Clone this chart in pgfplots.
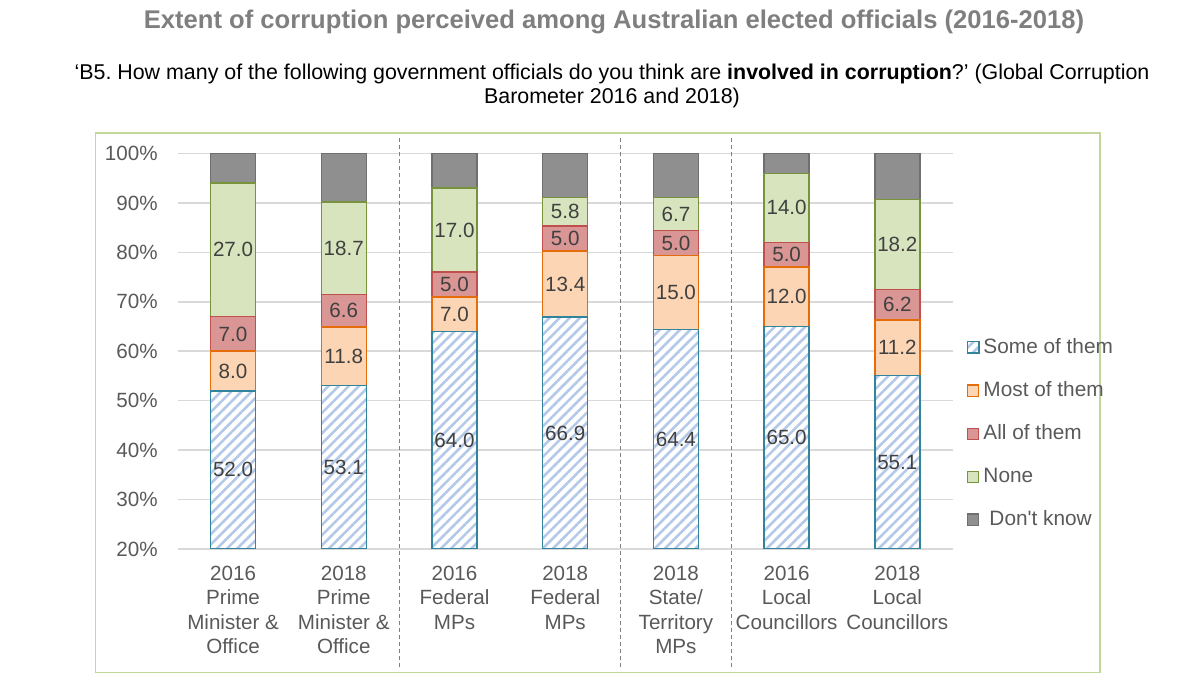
\documentclass[border=0pt]{standalone}
\usepackage{fontspec}
\setmainfont{Liberation Sans}
\newfontfamily\plainfont{Liberation Sans}
\usepackage{pgfplots}
\pgfplotsset{compat=1.18}
\usepackage{pgfplotstable}
\usetikzlibrary{patterns.meta}
\frenchspacing

\definecolor{someedge}{HTML}{31849B}
\definecolor{somestripe}{HTML}{B4C9E8}
\definecolor{mostfill}{HTML}{FCD5B5}
\definecolor{mostedge}{HTML}{E46C0A}
\definecolor{allfill}{HTML}{D99694}
\definecolor{alledge}{HTML}{C0504D}
\definecolor{nonefill}{HTML}{D7E4BD}
\definecolor{noneedge}{HTML}{77933C}
\definecolor{dkfill}{HTML}{8F8F8F}
\definecolor{dkedge}{HTML}{6F6F6F}
\definecolor{framegreen}{HTML}{C4D79B}
\definecolor{gridgray}{HTML}{D9D9D9}
\definecolor{txtgray}{HTML}{595959}
\definecolor{lblgray}{HTML}{404040}
\definecolor{titlegray}{HTML}{7F7F7F}
\definecolor{sepgray}{HTML}{808080}

\pgfplotstableread{
x some most all none dk
0 52.0 8.0 7.0 27.0 6.0
1 53.1 11.8 6.6 18.7 9.8
2 64.0 7.0 5.0 17.0 7.0
3 66.9 13.4 5.0 5.8 8.9
4 64.4 15.0 5.0 6.7 8.9
5 65.0 12.0 5.0 14.0 4.0
6 55.1 11.2 6.2 18.2 9.3
}\datatable

% label positions: centre of the visible part of each segment
\pgfplotstableread{
x y label
0 36.0 52.0
0 56.0 8.0
0 63.5 7.0
0 80.5 27.0
1 36.55 53.1
1 59.0 11.8
1 68.2 6.6
1 80.85 18.7
2 42.0 64.0
2 67.5 7.0
2 73.5 5.0
2 84.5 17.0
3 43.45 66.9
3 73.6 13.4
3 82.8 5.0
3 88.2 5.8
4 42.2 64.4
4 71.9 15.0
4 81.9 5.0
4 87.75 6.7
5 42.5 65.0
5 71.0 12.0
5 79.5 5.0
5 89.0 14.0
6 37.55 55.1
6 60.7 11.2
6 69.4 6.2
6 81.6 18.2
}\labeltable

\pgfplotsset{
  legsq/.style={legend image code/.code={\draw[##1, line width=0.6pt] (0pt,-2.8pt) rectangle (5.6pt,2.8pt);}},
  commonaxis/.style={
    at={(88.85pt,67.5pt)}, anchor=south west,
    scale only axis, width=387.5pt, height=197.75pt,
    xmin=-0.5, xmax=6.5, ymin=20, ymax=100,
  }
}

\begin{document}
\begin{tikzpicture}
\path[use as bounding box] (0,0) rectangle (600pt,342pt);

\draw[framegreen, line width=0.75pt] (47.65pt,5.75pt) rectangle (550pt,275.5pt);

\node[font=\fontsize{12.8}{15}\selectfont\bfseries, text=titlegray] at (307pt,331pt)
  {Extent of corruption perceived among Australian elected officials (2016-2018)};
\node[font=\fontsize{10.7}{12}\selectfont, align=center] at (306pt,299pt)
  {‘B5. How many of the following government officials do you think are \textbf{involved in corruption}?’ (Global Corruption\\Barometer 2016 and 2018)};

\begin{axis}[
  commonaxis,
  ybar stacked, bar width=22.5pt,
  xtick={0,...,6},
  xticklabels={{2016\\Prime\\Minister \&\\Office},{2018\\Prime\\Minister \&\\Office},{2016\\Federal\\MPs},{2018\\Federal\\MPs},{2018\\State/\\Territory\\MPs},{2016\\Local\\Councillors},{2018\\Local\\Councillors}},
  ytick={20,30,...,100},
  yticklabel={\pgfmathprintnumber{\tick}\%},
  /pgf/number format/assume math mode=true,
  ymajorgrids, grid style={gridgray, line width=0.75pt},
  axis line style={draw=none},
  tick style={draw=none}, major tick length=0pt,
  ticklabel style={font=\fontsize{10.3}{12.2}\selectfont, text=txtgray},
  xticklabel style={align=center, yshift=-5pt},
  yticklabel style={xshift=-6.5pt},
  legend style={at={(1,0.292)}, anchor=west, xshift=7pt, draw=none, fill=none,
    font=\fontsize{10.4}{12.5}\selectfont, text=txtgray, row sep=8.6pt, inner sep=0pt},
  legend cell align=left,
]
\addplot[legsq, preaction={fill=white}, pattern={Lines[angle=45,distance=3.6pt,line width=1.3pt]}, pattern color=somestripe, draw=someedge, line width=0.75pt]
  table[x=x,y=some]{\datatable};
\addlegendentry{Some of them}
\addplot[legsq, fill=mostfill, draw=mostedge, line width=0.75pt] table[x=x,y=most]{\datatable};
\addlegendentry{Most of them}
\addplot[legsq, fill=allfill, draw=alledge, line width=0.75pt] table[x=x,y=all]{\datatable};
\addlegendentry{All of them}
\addplot[legsq, fill=nonefill, draw=noneedge, line width=0.75pt] table[x=x,y=none]{\datatable};
\addlegendentry{None}
\addplot[legsq, fill=dkfill, draw=dkedge, line width=0.75pt] table[x=x,y=dk]{\datatable};
\addlegendentry{\hspace{3pt}{\plainfont Don't know}}

\coordinate (sAt) at (axis cs:1.5,103.1);
\coordinate (sAb) at (axis cs:1.5,-4.07);
\coordinate (sBt) at (axis cs:3.5,103.1);
\coordinate (sBb) at (axis cs:3.5,-4.07);
\coordinate (sCt) at (axis cs:4.5,103.1);
\coordinate (sCb) at (axis cs:4.5,-4.07);
\end{axis}

\begin{axis}[commonaxis, hide axis]
\addplot[only marks, mark=none, nodes near coords, point meta=explicit symbolic,
  every node near coord/.append style={anchor=center, font=\fontsize{10.3}{12}\selectfont, text=lblgray}]
  table[x=x,y=y,meta=label]{\labeltable};
\end{axis}

\foreach \s in {A,B,C}{
  \draw[sepgray, line width=0.6pt, dash pattern=on 2pt off 1.5pt] (s\s t) -- (s\s b);
}
\end{tikzpicture}
\end{document}
